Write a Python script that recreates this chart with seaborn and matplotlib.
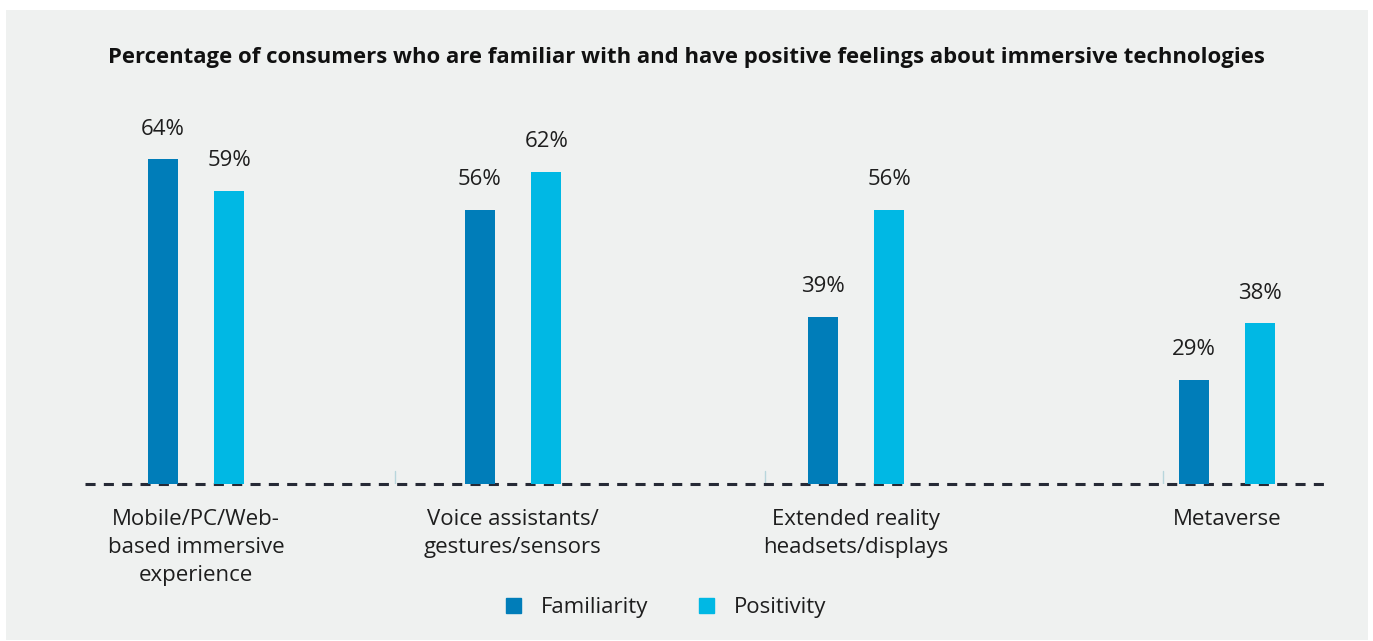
import matplotlib.pyplot as plt
import matplotlib.patches as mpatches
import pandas as pd
import seaborn as sns

categories = [
    "Mobile/PC/Web-\nbased immersive\nexperience",
    "Voice assistants/\ngestures/sensors",
    "Extended reality\nheadsets/displays",
    "Metaverse",
]
familiarity = [64, 56, 39, 29]
positivity = [59, 62, 56, 38]
series = ["Familiarity", "Positivity"]

# layout: group centres on a pixel-like axis (groups are unevenly spaced)
group_pos = [196, 513, 856, 1227]
separators = [395, 765, 1163]
y_base = 12.5  # the source chart's value axis does not start at zero

colors = {"Familiarity": "#007db9", "Positivity": "#00b8e4"}
bg = "#eff1f0"
text_color = "#1e1e1e"

df = pd.DataFrame({
    "pos": group_pos * 2,
    "value": familiarity + positivity,
    "series": [series[0]] * 4 + [series[1]] * 4,
})

sns.set_style("white")
plt.rcParams["font.family"] = ["Open Sans", "DejaVu Sans"]

W, H = 1373, 641
fig = plt.figure(figsize=(W / 100, H / 100), dpi=100, facecolor="white")
fig.patches.append(mpatches.Rectangle(
    (6 / W, 1 - 640 / H), (1368 - 6) / W, (640 - 10) / H,
    transform=fig.transFigure, facecolor=bg, edgecolor="none", zorder=-10))

ax = fig.add_axes([85 / W, (H - 484) / H, (1325 - 85) / W, 355.5 / H])
ax.set_facecolor("none")

sns.barplot(data=df, x="pos", y="value", hue="series", palette=colors,
            native_scale=True, width=133 / 317, gap=0.55, dodge=True,
            saturation=1, linewidth=0, ax=ax, legend=False, zorder=3)

ax.set_xlim(85, 1325)
ax.set_ylim(y_base, y_base + 355.5 / 6.31)

ax.axhline(y_base, color="#262a36", lw=2.2, ls=(0, (3.3, 2.7)), zorder=2,
           clip_on=False)
for s in separators:
    ax.plot([s, s], [y_base, y_base + 2.1], color="#b8d6dc", lw=1, zorder=1)

for cont in ax.containers:
    for bar in cont:
        h = bar.get_height()
        ax.annotate(f"{h:.0f}%", (bar.get_x() + bar.get_width() / 2, h),
                    xytext=(0, 14), textcoords="offset points",
                    ha="center", va="bottom", fontsize=16,
                    color=text_color)

ax.set_xticks(group_pos)
ax.set_xticklabels(categories, fontsize=16, color=text_color, linespacing=1.45)
ax.tick_params(axis="x", length=0, pad=18)
ax.set_yticks([])
ax.set_xlabel("")
ax.set_ylabel("")
sns.despine(ax=ax, left=True, bottom=True)

fig.text(686 / W, 1 - 57 / H,
         "Percentage of consumers who are familiar with and have positive "
         "feelings about immersive technologies",
         ha="center", va="center", fontsize=15.9, fontweight="bold",
         color="#111111")

handles = [mpatches.Patch(color=colors[s], label=s) for s in series]
fig.legend(handles=handles, loc="center", bbox_to_anchor=(666 / W, 1 - 608 / H),
           ncol=2, frameon=False, handlelength=0.65,
           handleheight=0.65, handletextpad=0.9, columnspacing=2.3,
           prop={"size": 16}, labelcolor=text_color)

fig.savefig("out.png", dpi=100, facecolor="white")
